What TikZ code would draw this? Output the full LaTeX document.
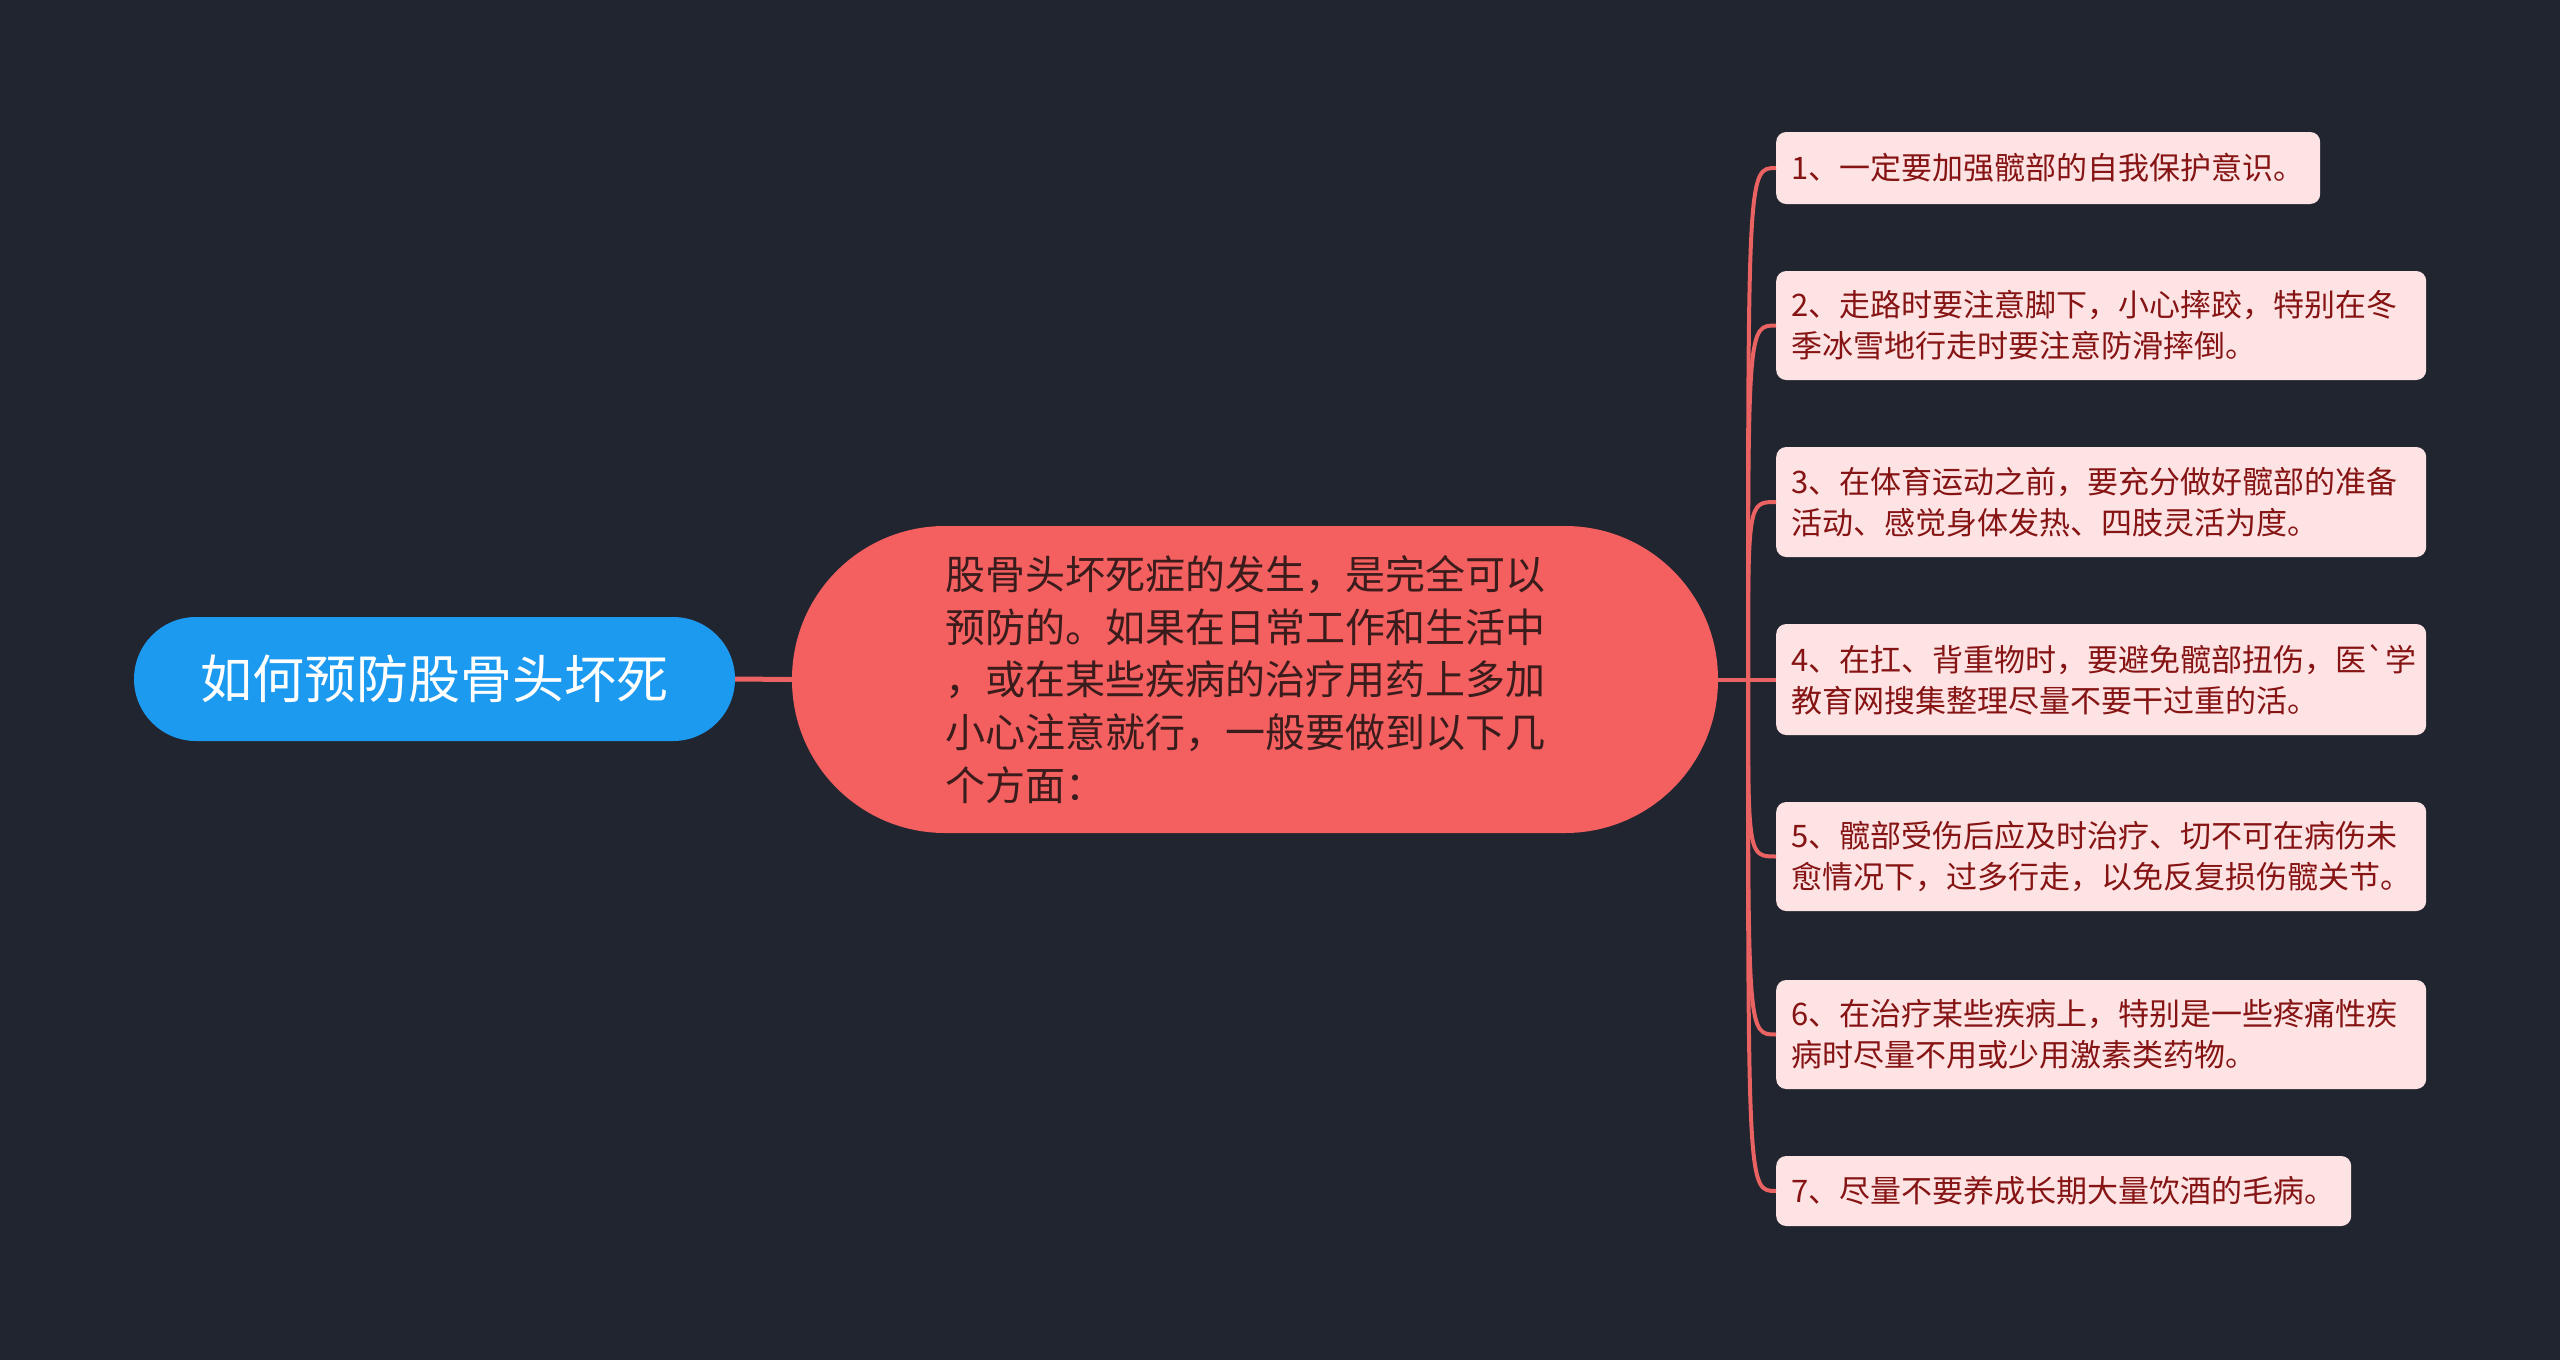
\documentclass[tikz,border=0pt]{standalone}
\usepackage{fontspec}
\newfontfamily\cjk{Noto Sans CJK SC}
\definecolor{bgc}{HTML}{21252F}
\definecolor{rootblue}{HTML}{1C9AF0}
\definecolor{midred}{HTML}{F45F5F}
\definecolor{midtext}{HTML}{3A1C1C}
\definecolor{leafbg}{HTML}{FDE3E3}
\definecolor{leaftext}{HTML}{861414}
\definecolor{linkred}{HTML}{EA6262}
\begin{document}
\begin{tikzpicture}[x=1pt,y=-1pt,
  conn/.style={draw=linkred, line width=4pt},
  rootbox/.style={fill=rootblue, text=white, rounded corners=62pt, minimum width=601pt, minimum height=124pt, inner sep=0pt, font=\cjk\fontsize{52}{60}\selectfont},
  midbox/.style={fill=midred, text=midtext, rounded corners=153pt, minimum width=926pt, minimum height=307pt, inner sep=0pt, text width=620pt, align=left, font=\cjk\fontsize{40}{52.7}\selectfont},
  leaf/.style={fill=leafbg, text=leaftext, rounded corners=10pt, anchor=west, inner xsep=15pt, inner ysep=0pt, align=left, text width=#1, font=\cjk\fontsize{31}{41}\selectfont},
]
\fill[bgc] (0,0) rectangle (2560,1360);
\useasboundingbox (0,0) rectangle (2560,1360);

\node[rootbox] (root) at (434.5,679) {如何预防股骨头坏死};
\node[midbox] (mid) at (1255,679.5) {股骨头坏死症的发生，是完全可以\\预防的。如果在日常工作和生活中\\，或在某些疾病的治疗用药上多加\\小心注意就行，一般要做到以下几\\个方面：};

\node[leaf=514pt, minimum height=72pt] (c1) at (1776,168) {1、一定要加强髋部的自我保护意识。};
\node[leaf=620pt, minimum height=109pt] (c2) at (1776,325.5) {2、走路时要注意脚下，小心摔跤，特别在冬\\季冰雪地行走时要注意防滑摔倒。};
\node[leaf=620pt, minimum height=110pt] (c3) at (1776,502) {3、在体育运动之前，要充分做好髋部的准备\\活动、感觉身体发热、四肢灵活为度。};
\node[leaf=620pt, minimum height=111pt] (c4) at (1776,679.5) {4、在扛、背重物时，要避免髋部扭伤，医`学\\教育网搜集整理尽量不要干过重的活。};
\node[leaf=620pt, minimum height=109pt] (c5) at (1776,856.5) {5、髋部受伤后应及时治疗、切不可在病伤未\\愈情况下，过多行走，以免反复损伤髋关节。};
\node[leaf=620pt, minimum height=109pt] (c6) at (1776,1034.5) {6、在治疗某些疾病上，特别是一些疼痛性疾\\病时尽量不用或少用激素类药物。};
\node[leaf=545pt, minimum height=70pt] (c7) at (1776,1191) {7、尽量不要养成长期大量饮酒的毛病。};

\coordinate (hub) at (1748,679.5);
\draw[conn, line width=5pt] (root.east) -- (mid.west);
\draw[conn] (mid.east) -- (hub);
\foreach \n in {c1,c2,c3,c4,c5,c6,c7}
  \draw[conn] (hub) .. controls (hub |- \n.west) .. (\n.west);
\end{tikzpicture}
\end{document}
